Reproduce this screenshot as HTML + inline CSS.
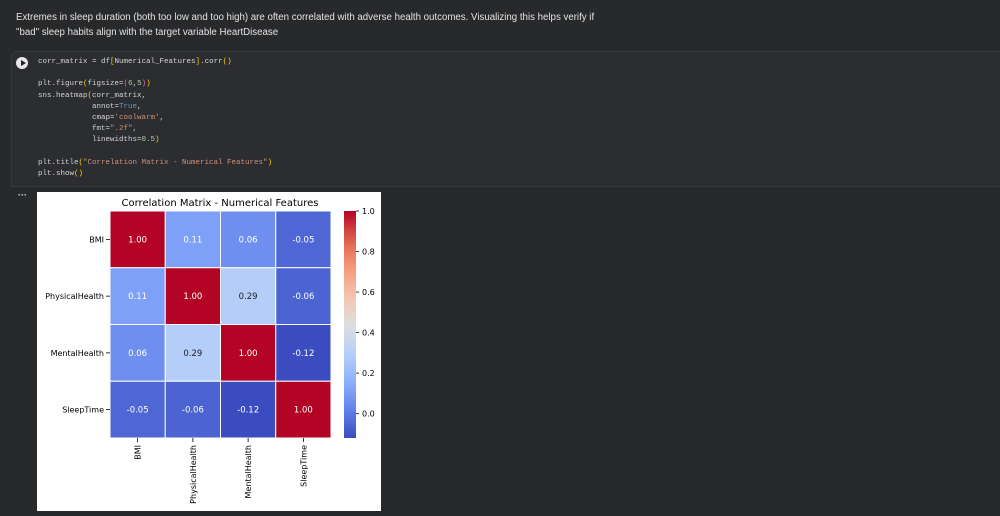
<!DOCTYPE html>
<html><head><meta charset="utf-8">
<style>
body{margin:0;width:1000px;height:513px;background:#28292b;overflow:hidden;font-family:"Liberation Sans",sans-serif;position:relative}
.md{position:absolute;left:16px;top:10px;color:#e3e3e3;font-size:9.7px;line-height:15px}
.cell{position:absolute;left:11px;top:51px;width:1000px;height:134px;background:#2c2d30;border:1px solid #37383b;border-radius:6px 0 0 0}
.code{position:absolute;left:38px;top:57px;font-family:"Liberation Mono",monospace;font-size:7.5px;line-height:11.2px;color:#d4d4d4;white-space:pre}
.y{color:#ffd700}.p{color:#da70d6}.s{color:#ce9178}.b{color:#569cd6}.n{color:#b5cea8}
.run{position:absolute;left:16px;top:57px;width:12px;height:12px;border-radius:50%;background:#e8e8e8}
.run:after{content:"";position:absolute;left:4.5px;top:3px;border-left:5px solid #222;border-top:3px solid transparent;border-bottom:3px solid transparent}
.dots{position:absolute;left:18px;top:190px;color:#ddd;font-size:9px;font-weight:bold}
.fig{position:absolute;left:37px;top:192px;width:344px;height:319px;background:#fff}
</style></head><body>
<div class="md">Extremes in sleep duration (both too low and too high) are often correlated with adverse health outcomes. Visualizing this helps verify if<br>"bad" sleep habits align with the target variable HeartDisease</div>
<div class="cell"></div>
<div class="run"></div>
<div class="code">corr_matrix = df<span class="y">[</span>Numerical_Features<span class="y">]</span>.corr<span class="y">()</span>

plt.figure<span class="y">(</span>figsize=<span class="p">(</span><span class="n">6</span>,<span class="n">5</span><span class="p">)</span><span class="y">)</span>
sns.heatmap<span class="y">(</span>corr_matrix,
            annot=<span class="b">True</span>,
            cmap=<span class="s">'coolwarm'</span>,
            fmt=<span class="s">".2f"</span>,
            linewidths=<span class="n">0.5</span><span class="y">)</span>

plt.title<span class="y">(</span><span class="s">"Correlation Matrix - Numerical Features"</span><span class="y">)</span>
plt.show<span class="y">()</span></div>
<div class="dots">···</div>
<div class="fig">
<svg id="chart" width="344" height="319" xmlns="http://www.w3.org/2000/svg" font-family="'DejaVu Sans',sans-serif"></svg>
</div>
<script>
const labels=["BMI","PhysicalHealth","MentalHealth","SleepTime"];
const row0=[1.00,0.11,0.06,-0.05];
const row1=[0.11,1.00,0.29,-0.06];
const row2=[0.06,0.29,1.00,-0.12];
const row3=[-0.05,-0.06,-0.12,1.00];
const matrix=[row0,row1,row2,row3];
const cbTicks=[0.0,0.2,0.4,0.6,0.8,1.0];
const vmin=-0.12,vmax=1.0;

const ns="http://www.w3.org/2000/svg";
const svg=document.getElementById('chart');
function mk(t,a,p){const e=document.createElementNS(ns,t);for(const k in a)e.setAttribute(k,a[k]);(p||svg).appendChild(e);return e;}
const X0=73,Y0=19,W=221,H=227;
const cw=W/labels.length,ch=H/labels.length;
const xPos=i=>X0+i*cw, yPos=i=>Y0+i*ch;
const stops=[[0,[59,76,192]],[0.125,[98,130,234]],[0.25,[141,176,254]],[0.375,[184,208,249]],[0.5,[221,221,221]],[0.625,[245,196,173]],[0.75,[244,154,123]],[0.875,[222,96,77]],[1,[180,4,38]]];
function cmap(v){let t=Math.max(0,Math.min(1,(v-vmin)/(vmax-vmin)));for(let i=1;i<stops.length;i++){if(t<=stops[i][0]){const [a,ca]=stops[i-1],[b,cb]=stops[i];const f=(t-a)/(b-a);return 'rgb('+ca.map((c,k)=>Math.round(c+(cb[k]-c)*f)).join(',')+')';}}return 'rgb(180,4,38)';}

let e=mk('text',{x:183,y:14,'text-anchor':'middle','font-size':10,fill:'#000'});e.textContent="Correlation Matrix - Numerical Features";



matrix.forEach((row,r)=>row.forEach((v,c)=>{
  const rc=mk('rect',{x:xPos(c),y:yPos(r),width:cw,height:ch,fill:cmap(v),stroke:'#fff','stroke-width':1});
  
  
  const t=mk('text',{x:xPos(c)+cw/2,y:yPos(r)+ch/2+3,'text-anchor':'middle','font-size':8.5,fill:(v>0.2&&v<0.6)?'#222':'#fff'});
  t.textContent=v.toFixed(2);
  
  
}));

labels.forEach((l,i)=>{
  const yc=yPos(i)+ch/2;
  mk('line',{x1:X0-4,x2:X0,y1:yc,y2:yc,stroke:'#000','stroke-width':0.8});
  const t=mk('text',{x:X0-6,y:yc+3,'text-anchor':'end','font-size':8,fill:'#000'});t.textContent=l;
  
  
  const xc=xPos(i)+cw/2;
  mk('line',{x1:xc,x2:xc,y1:Y0+H,y2:Y0+H+4,stroke:'#000','stroke-width':0.8});
  const u=mk('text',{x:0,y:0,'text-anchor':'end','font-size':8,fill:'#000',transform:`translate(${xc+3},${Y0+H+7}) rotate(-90)`});u.textContent=l;
  
  
});

const CX=307,CW=12;
const cy=v=>Y0+(vmax-v)/(vmax-vmin)*H;
const defs=mk('defs',{});const g=mk('linearGradient',{id:'cg',x1:0,y1:1,x2:0,y2:0},defs);
for(let i=0;i<=20;i++){const t=i/20;mk('stop',{offset:t,'stop-color':cmap(vmin+t*(vmax-vmin))},g);}
const cb=mk('rect',{x:CX,y:Y0,width:CW,height:H,fill:'url(#cg)'});


cbTicks.forEach(v=>{
  const y=cy(v);
  mk('line',{x1:CX+CW,x2:CX+CW+3,y1:y,y2:y,stroke:'#000','stroke-width':0.8});
  const t=mk('text',{x:CX+CW+6,y:y+3,'font-size':8,fill:'#000'});t.textContent=v.toFixed(1);
  
  
});
</script>
</body></html>
